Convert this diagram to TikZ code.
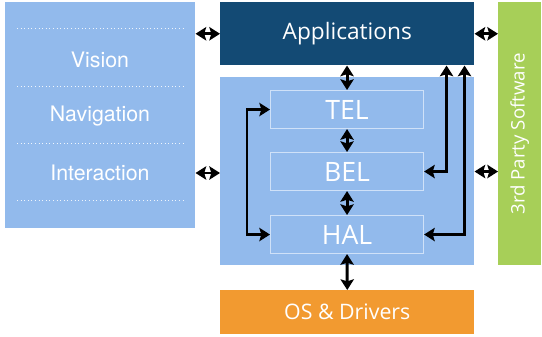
\documentclass[tikz,border=0pt]{standalone}
\usepackage{fontspec}
\setmainfont{Open Sans}
\newfontfamily\helvfont{TeX Gyre Heros}
\usetikzlibrary{calc,arrows.meta}
\definecolor{lightblue}{HTML}{92BAEC}
\definecolor{darkblue}{HTML}{134A74}
\definecolor{orangebox}{HTML}{F29A30}
\definecolor{greenbox}{HTML}{A7CF58}
\definecolor{innerline}{HTML}{CFE1F8}
\begin{document}
\begin{tikzpicture}[x=0.75pt,y=-0.75pt]
	\tikzset{
	    block/.style={rectangle,inner sep=0pt,anchor=north west,text=white},
	    layer/.style={block,fill=lightblue,draw=innerline,line width=0.8pt,
	        minimum width=114.75pt,minimum height=28.5pt,font=\fontsize{20}{20}\selectfont},
	    sidetext/.style={text=white,font=\helvfont\fontsize{16}{16}\selectfont},
	    dbl/.style={line width=2.2pt,{Stealth[length=8pt,width=10pt,inset=1.5pt]}-{Stealth[length=8pt,width=10pt,inset=1.5pt]}},
	    sep/.style={white!85!lightblue,line width=0.7pt,dotted}
	}
	\useasboundingbox (0,0) rectangle (542,336);
	% left column
	\node[block,fill=lightblue,minimum width=142.5pt,minimum height=169.5pt] (percep) at (5,2) {};
	\foreach \yy in {28,86,143,200}
	    \draw[sep] (17,\yy) -- (183,\yy);
	\node[sidetext] (vision) at (100,60) {Vision};
	\node[sidetext] (navigation) at (100,116) {Navigation};
	\node[sidetext] (interaction) at (100,173) {Interaction};
	% middle column
	\node[block,fill=darkblue,minimum width=190.5pt,minimum height=47.25pt,
	      font=\fontsize{17}{17}\selectfont] (apps) at (220,2) {Applications};
	\node[block,fill=lightblue,minimum width=190.5pt,minimum height=141pt] (mid) at (220,77) {};
	\node[layer] (tel) at (270,90) {TEL};
	\node[layer] (bel) at (270,152) {BEL};
	\node[layer] (hal) at (270,215) {HAL};
	\node[block,fill=orangebox,minimum width=190.5pt,minimum height=33pt,
	      font=\fontsize{16}{16}\selectfont] (os) at (220,290) {OS \& Drivers};
	% right column
	\node[block,fill=greenbox,minimum width=32.25pt,minimum height=197.25pt] (third) at (498,2) {};
	\node[text=white,rotate=90,font=\fontsize{14}{14}\selectfont] (thirdtext) at (third.center) {3rd Party Software};
	% connections
	\draw[dbl] (apps.west) -- (apps.west -| percep.east);
	\draw[dbl] (percep.east |- interaction) -- (mid.west |- interaction);
	\draw[dbl] (apps.east) -- (apps.east -| third.west);
	\draw[dbl] (mid.east |- bel) -- (third.west |- bel);
	\draw[dbl] (apps.south -| tel) -- (tel.north);
	\draw[dbl] (tel.south) -- (bel.north);
	\draw[dbl] (bel.south) -- (hal.north);
	\draw[dbl] (hal.south) -- (os.north);
	\draw[dbl] (tel.west) -- ++(-23,0) |- (hal.west);
	\draw[dbl] (bel.east) -| ($(apps.south east)+(-28,0)$);
	\draw[dbl] (hal.east) -| ($(apps.south east)+(-10,0)$);
\end{tikzpicture}
\end{document}
